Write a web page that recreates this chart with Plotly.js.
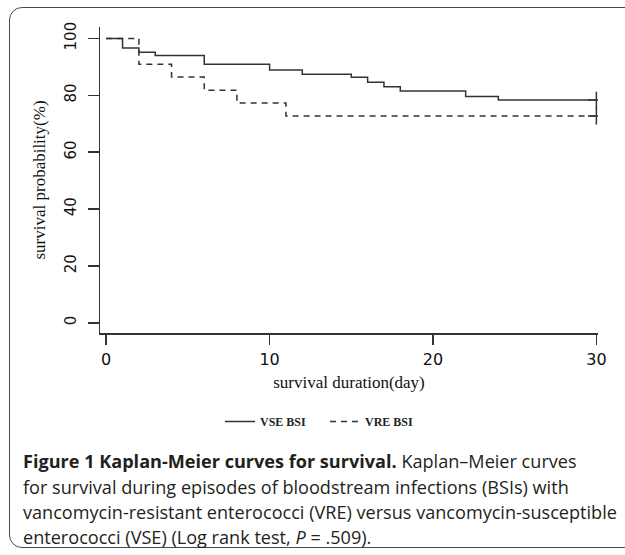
<!DOCTYPE html>
<html>
<head>
<meta charset="utf-8">
<script src="https://cdn.plot.ly/plotly-3.0.1.min.js"></script>
<style>
  html, body { margin: 0; padding: 0; width: 625px; height: 555px; overflow: hidden; background: #fff; }
  #frame { position: absolute; left: 9px; top: 7px; width: 660px; height: 541px;
           border: 1.5px solid #4a4a4a; border-radius: 13px; box-sizing: border-box; }
  #chart { position: absolute; left: 0; top: 0; width: 625px; height: 555px; }
</style>
</head>
<body>
<div id="frame"></div>
<div id="chart"></div>
<script>
// ---- data ----
const vseDays = [0, 1, 2, 3, 6, 10, 12, 15, 16, 17, 18, 22, 24, 30];
const vseSurv = [100, 96.6, 95.1, 94.0, 90.9, 88.9, 87.4, 86.3, 84.6, 83.0, 81.5, 79.6, 78.3, 78.3];
const vreDays = [0, 2, 4, 6, 8, 11, 30];
const vreSurv = [100, 90.9, 86.4, 81.8, 77.3, 72.7, 72.7];
const seriesNames = ["VSE BSI", "VRE BSI"];
const xTicks = [0, 10, 20, 30];
const yTicks = [0, 20, 40, 60, 80, 100];
const xTitle = "survival duration(day)";
const yTitle = "survival probability(%)";
const captionLines = [
  "<b>Figure 1 Kaplan-Meier curves for survival.</b> Kaplan\u2013Meier curves",
  "for survival during episodes of bloodstream infections (BSIs) with",
  "vancomycin-resistant enterococci (VRE) versus vancomycin-susceptible",
  "enterococci (VSE) (Log rank test, <i>P</i> = .509)."
];

// ---- layout helpers ----
const W = 625, H = 555;
const M = {l: 100, r: 27, t: 27, b: 222};
const PW = W - M.l - M.r, PH = H - M.t - M.b;
const px2x = px => (px - M.l) / PW;
const py2y = py => (H - M.b - py) / PH;
const ink = "#333333";

const last = a => a[a.length - 1];

const traces = [
  {x: vseDays, y: vseSurv, name: seriesNames[0], type: "scatter", mode: "lines",
   line: {shape: "hv", color: ink, width: 1.5}},
  {x: vreDays, y: vreSurv, name: seriesNames[1], type: "scatter", mode: "lines",
   line: {shape: "hv", color: ink, width: 1.5, dash: "6px,5px"}},
  {x: [last(vseDays)], y: [last(vseSurv)], type: "scatter", mode: "markers", showlegend: false,
   marker: {symbol: "cross-thin", size: 12, color: ink, line: {color: ink, width: 1.5}}},
  {x: [last(vreDays)], y: [last(vreSurv)], type: "scatter", mode: "markers", showlegend: false,
   marker: {symbol: "cross-thin", size: 12, color: ink, line: {color: ink, width: 1.5}}}
];

const captionY = [461, 487, 512, 537];
const annotations = captionLines.map((t, i) => ({
  text: t, xref: "paper", yref: "paper", x: px2x(21), y: py2y(captionY[i]),
  xanchor: "left", yanchor: "middle", showarrow: false, align: "left",
  font: {family: "Open Sans, sans-serif", size: 18.1, color: "#231f20"}
}));

const layout = {
  width: W, height: H, autosize: false,
  margin: M,
  paper_bgcolor: "rgba(0,0,0,0)", plot_bgcolor: "rgba(0,0,0,0)",
  showlegend: true,
  legend: {orientation: "h", x: px2x(220), y: py2y(407), xanchor: "left", yanchor: "top",
           font: {family: "Liberation Serif, serif", size: 12, color: "#222", weight: "bold"},
           bgcolor: "rgba(0,0,0,0)", itemwidth: 30, entrywidth: 60, tracegroupgap: 0},
  xaxis: {range: [-0.38, 30.1], tickvals: xTicks, ticktext: xTicks.map(String),
          ticks: "outside", ticklen: 10, tickwidth: 1.5, tickcolor: ink,
          showline: true, linecolor: ink, linewidth: 1.5, showgrid: false, zeroline: false,
          tickfont: {family: "DejaVu Sans, sans-serif", size: 16, color: "#111"},
          ticklabelstandoff: 1,
          title: {text: xTitle, standoff: 8, font: {family: "Liberation Serif, serif", size: 17, color: "#111"}}},
  yaxis: {range: [-3.6, 104], tickvals: yTicks, ticktext: yTicks.map(String), tickangle: -90,
          ticks: "outside", ticklen: 11, tickwidth: 1.5, tickcolor: ink,
          showline: true, linecolor: ink, linewidth: 1.5, showgrid: false, zeroline: false,
          tickfont: {family: "DejaVu Sans, sans-serif", size: 15, color: "#111"},
          ticklabelstandoff: 6,
          title: {text: yTitle, standoff: 11, font: {family: "Liberation Serif, serif", size: 17, color: "#111"}}},
  annotations: annotations
};

Plotly.newPlot("chart", traces, layout, {displayModeBar: false, staticPlot: true});
</script>
</body>
</html>
